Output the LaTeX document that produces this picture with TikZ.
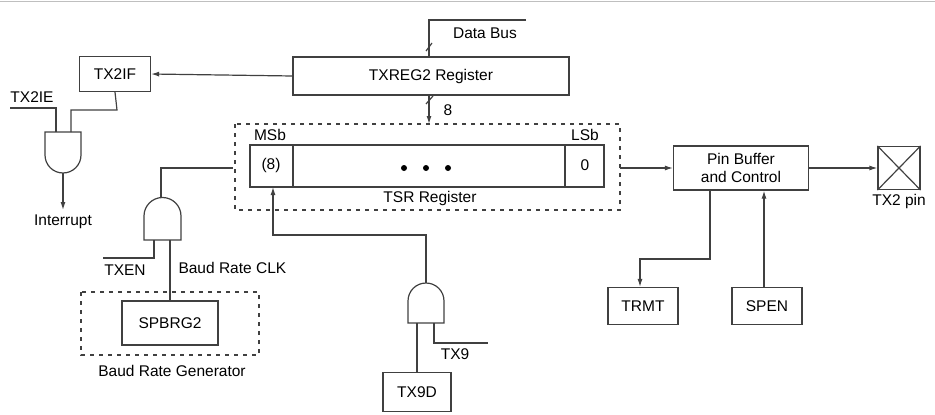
\documentclass[tikz,border=0pt]{standalone}
\usepackage{fontspec}
\setmainfont{Liberation Sans}
\usetikzlibrary{positioning,arrows.meta}

\begin{document}
\begin{tikzpicture}[x=1pt, y=-1pt,
      every node/.style={font=\fontsize{15.5}{18}\selectfont},
      type-box/.style={draw=black!75, line width=1.2pt, minimum height=36pt, inner sep=0pt},
      type-dash/.style={draw=black!75, dash pattern=on 4pt off 5pt, line width=1.1pt},
      type-wire/.style={draw=black!75, line width=1.2pt},
      type-arrow/.style={type-wire, -{Latex[length=8pt,width=5pt]}}
    ]
      \useasboundingbox (0,0) rectangle (935,415);
      \draw[black!25, line width=1pt] (0,1) -- (935,1);
      % registers
      \node[type-box, minimum width=276pt, minimum height=38pt] (txreg) at (431,76) {TXREG2 Register};
      \node[type-box, minimum width=71pt, minimum height=35pt] (txif) at (115,74) {TX2IF};
      \draw[type-dash] (235,124) rectangle (620,210);
      \node[type-box, minimum width=354pt, minimum height=42pt] (tsr) at (427,166) {};
      \draw[type-wire] (293,145) -- (293,187) (565,145) -- (565,187);
      \node (msb) at (271,165) {(8)};
      \node (lsb) at (585,165) {0};
      \foreach \x in {404,426,448} \fill (\x,168) circle (3pt);
      \node at (270,135) {MSb};
      \node at (585,135) {LSb};
      \node at (430,198) {TSR Register};
      % data bus
      \coordinate (bus) at (526,20);
      \draw[type-wire] (bus) -- (429,20) -- (txreg.north -| 429,0);
      \draw[type-wire] (426,51) -- (432,43);
      \node at (485,33) {Data Bus};
      \draw[type-arrow] (txreg.south -| 429,0) -- (429,124);
      \draw[type-wire] (426,104) -- (433,96);
      \node at (448,110) {8};
      \draw[type-arrow] (txreg.west) -- (txif.east);
      % interrupt gate
      \draw[type-wire] (45,132) -- (81,132) -- (81,155) arc (0:180:18) -- cycle;
      \draw[type-wire] (txif.south) -- (117,110) -- (71,110) -- (71,132);
      \draw[type-wire] (10,108) -- (56,108) -- (56,132);
      \node at (32,97) {TX2IE};
      \coordinate (int) at (63,210);
      \draw[type-arrow] (63,173) -- (int);
      \node[below=1pt of int] {Interrupt};
      % baud rate
      \draw[type-wire] (144,240) -- (144,216) arc (180:360:18.5) -- (181,240) -- cycle;
      \coordinate (clk) at (233,168);
      \draw[type-wire] (161,198) -- (161,168) -- (clk);
      \draw[type-dash] (81,292) rectangle (259,355);
      \node[type-box, minimum width=96pt, minimum height=44pt] (spbrg) at (170,323) {SPBRG2};
      \draw[type-wire] (spbrg.north) -- (170,240);
      \draw[type-wire] (103,258) -- (154,258) -- (154,240);
      \node at (125,270) {TXEN};
      \node[anchor=west] at (175,268) {Baud Rate CLK};
      \node at (172,371) {Baud Rate Generator};
      % ninth bit
      \draw[type-wire] (408,323) -- (408,301) arc (180:360:18) -- (444,323) -- cycle;
      \node[type-box, minimum width=68pt, minimum height=39pt] (tx9d) at (417,392) {TX9D};
      \draw[type-wire] (tx9d.north) -- (417,323);
      \draw[type-wire] (434,323) -- (434,343) -- (488,343);
      \node at (455,354) {TX9};
      \draw[type-arrow] (426,283) -- (426,235) -- (273,235) -- (273,187);
      % pin output
      \node[type-box, minimum width=135pt, minimum height=44pt, align=center] (pin) at (741,168) {Pin Buffer\\and Control};
      \draw[type-arrow] (620,168) -- (pin.west);
      \node[type-box, minimum width=42pt, minimum height=43pt] (tx2) at (899,168) {};
      \draw[type-wire] (tx2.north west) -- (tx2.south east) (tx2.north east) -- (tx2.south west);
      \node[below=1pt of tx2] {TX2 pin};
      \draw[type-arrow] (pin.east) -- (tx2.west);
      \node[type-box, minimum width=70pt, minimum height=37pt] (trmt) at (643,306) {TRMT};
      \node[type-box, minimum width=70pt, minimum height=37pt] (spen) at (767,306) {SPEN};
      \draw[type-arrow] (pin.south -| 710,0) -- (710,259) -- (640,259) -- (trmt.north -| 640,0);
      \draw[type-arrow] (spen.north -| 764,0) -- (pin.south -| 764,0);
    \end{tikzpicture}
\end{document}
